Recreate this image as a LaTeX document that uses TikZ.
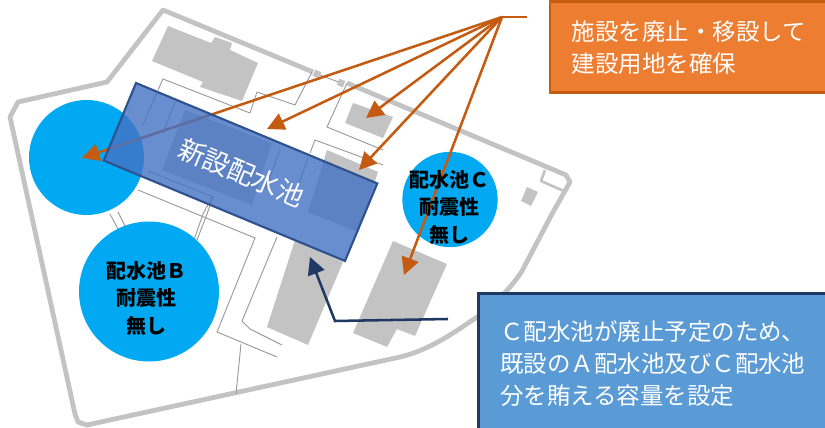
\documentclass[tikz,border=0pt]{standalone}
\usepackage{fontspec}
\setmainfont{Noto Sans CJK JP}
\usetikzlibrary{arrows.meta}

\definecolor{wallgray}{HTML}{C3C3C3}
\definecolor{linegray}{HTML}{9A9A9A}
\definecolor{tankblue}{HTML}{00A9F1}
\definecolor{orangefill}{HTML}{ED7D31}
\definecolor{orangeline}{HTML}{C55A11}
\definecolor{bluefill}{HTML}{5B9BD5}
\definecolor{navyline}{HTML}{1F3864}
\definecolor{newfill}{HTML}{4472C4}
\definecolor{newline}{HTML}{2F528F}

\begin{document}
\begin{tikzpicture}
	 [x=.75pt,y=-.75pt,
	  wall/.style={draw=wallgray,line width=3.6pt,line join=round},
	  thin line/.style={draw=linegray,line width=.7pt},
	  building/.style={fill=wallgray},
	  tank/.style={circle,fill=tankblue,inner sep=0pt},
	  tank label/.style={align=center,font=\fontsize{15}{20.6}\selectfont\bfseries},
	  note/.style={anchor=north west,align=left,text=white,inner xsep=16.5pt,line width=2pt,
	    font=\fontsize{17.6}{24}\selectfont},
	  org/.style={draw=orangeline,line width=1.9pt,-{Triangle[length=13pt,width=13pt]}},
	  nav/.style={draw=navyline,line width=1.9pt,-{Triangle[length=13pt,width=13pt]}}]

	  \useasboundingbox (0,0) rectangle (825,428);

	  % site boundary
	  \draw[wall] (313,72) -- (163,10) -- (107,82) -- (18,102) -- (10,117) -- (75,414) -- (78,422) -- (87,425)
	    -- (400,357) .. controls (430,350) and (455,332) .. (477,317) .. controls (490,308) and (510,290) .. (522,271)
	    -- (552,214) -- (570,182) -- (566,175) -- (347,83);
	  \draw[wall,line width=2pt] (545,170) -- (541,181) -- (566,192);
	  \draw[thin line] (317,74) -- (341,83);
	  \node (gate1) [building,minimum size=5pt,inner sep=0pt,rotate=-22] at (317,74) {};
	  \node (gate2) [building,minimum size=5pt,inner sep=0pt,rotate=-22] at (341,83) {};

	  % buildings
	  \fill[building] (168,26) -- (211,43) -- (215,37) -- (232,43) -- (230,50) -- (258,63) -- (242,101) -- (200,87) -- (203,82) -- (152,61) -- cycle;
	  \fill[building] (353,103) -- (393,117) -- (383,138) -- (345,123) -- cycle;
	  \fill[building] (327,150) -- (378,172) -- (358,232) -- (308,212) -- cycle;
	  \fill[building] (185,110) -- (272,143) -- (252,205) -- (162,170) -- cycle;
	  \fill[building] (295,240) -- (343,262) -- (308,345) -- (267,327) -- cycle;
	  \fill[building] (393,241) -- (447,264) -- (415,336) -- (397,329) -- (387,347) -- (353,333) -- cycle;
	  \fill[building] (527,187) -- (538,192) -- (531,206) -- (521,201) -- cycle;

	  % yard lines
	  \draw[thin line] (158,90) -- (163,79) -- (250,113);
	  \draw[thin line] (250,113) -- (257,92) -- (295,105) -- (312,72);
	  \draw[thin line] (347,83) -- (327,127) -- (383,150);
	  \draw[thin line] (310,153) -- (315,140) -- (383,165);
	  \draw[thin line] (157,92) -- (143,125);
	  \draw[thin line] (175,102) -- (163,133);
	  \draw[thin line] (148,171) -- (213,197) -- (207,214) -- (197,240);
	  \draw[thin line] (138,190) -- (255,238) -- (217,332) -- (277,357);
	  \draw[thin line] (212,197) -- (203,214) -- (194,240);
	  \draw[thin line] (277,237) -- (242,321) -- (250,329) -- (282,345);
	  \draw[thin line] (241,344) -- (236,394);
	  \draw[thin line] (110,214) -- (118,229);
	  \draw[thin line] (118,212) -- (125,226);
	  \draw[thin line] (280,150) -- (265,190);
	  \draw[thin line] (308,158) -- (295,195);

	  % tanks
	  \node (tankA) [tank,minimum size=86.25pt] at (86.5,157.5) {};
	  \node (tankB) [tank,minimum size=105pt] at (149,291.5) {};
	  \node (tankC) [tank,minimum size=71.5pt] at (450,199.5) {};

	  % arrow ends
	  \coordinate (hub) at (502,17);
	  \coordinate (stub) at (527,17);
	  \coordinate (toA) at (82,158);
	  \coordinate (toRoad) at (267,129);
	  \coordinate (toSmall) at (366,118);
	  \coordinate (toMid) at (359,170);
	  \coordinate (toRight) at (404,275);
	  \coordinate (navstart) at (448,319);
	  \coordinate (navbend) at (335,321);
	  \coordinate (navend) at (310,257);

	  \draw[org] (hub) -- (toA);

	  \node (newtank) [draw=newline,fill=newfill,fill opacity=.8,text opacity=1,text=white,line width=1.6pt,
	    minimum width=196pt,minimum height=63pt,rotate=-22.6,font=\fontsize{20}{24}\selectfont] at (240.5,172) {\hspace{1.5pt}新設配水池};

	  \foreach \to in {toRoad,toSmall,toMid,toRight}
	    \draw[org] (hub) -- (\to);
	  \draw[draw=orangeline,line width=1.9pt] (hub) -- (stub);

	  \node (labelB) [tank label] at (146,298) {配水池Ｂ\\耐震性\\無し};
	  \node (labelC) [tank label] at (449,207) {配水池Ｃ\\耐震性\\無し};

	  \draw[nav] (navstart) -- (navbend) -- (navend);

	  \node (orangenote) [note,fill=orangefill,draw=orangeline,text width=190pt,minimum height=68pt] at (548.5,0.5) {施設を廃止・移設して\\建設用地を確保};
	  \node (bluenote) [note,fill=bluefill,draw=navyline,text width=250pt,minimum height=105pt] at (477,292) {Ｃ配水池が廃止予定のため、\\既設のＡ配水池及びＣ配水池\\分を賄える容量を設定};

\end{tikzpicture}
\end{document}
